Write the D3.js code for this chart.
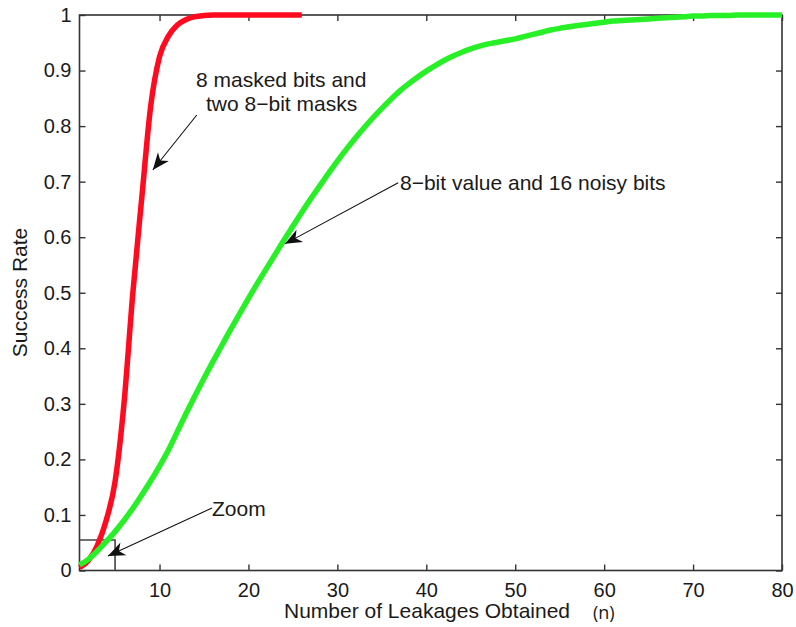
<!DOCTYPE html>
<html>
<head>
<meta charset="utf-8">
<script src="https://cdn.jsdelivr.net/npm/d3@7"></script>
<style>
  html, body { margin: 0; padding: 0; background: #fff; }
  svg { display: block; }
  text { font-family: "Liberation Sans", Arial, Helvetica, sans-serif; fill: #1a1a1a; }
</style>
</head>
<body>
<svg id="chart" width="796" height="627"></svg>
<script>
// Success rate versus number of leakages obtained (n)
const maskedN = [1,2,3,4,5,6,7,8,9,10,11,12,13,14,15,16,17,18,19,20,21,22,23,24,25,26];
const maskedRate = [0.005,0.018,0.045,0.09,0.16,0.30,0.50,0.67,0.835,0.925,0.962,0.982,0.992,0.997,0.999,1,1,1,1,1,1,1,1,1,1,1];

const noisyN = [1,2,3,4,5,6,7,8,9,10,11,12,13,14,15,16,17,18,19,20,
  21,22,23,24,25,26,27,28,29,30,31,32,33,34,35,36,37,38,39,40,
  41,42,43,44,45,46,47,48,49,50,51,52,53,54,55,56,57,58,59,60,
  61,62,63,64,65,66,67,68,69,70,71,72,73,74,75,76,77,78,79,80];
const noisyRate = [0.01,0.02,0.035,0.052,0.07,0.09,0.112,0.136,0.161,0.188,
  0.217,0.25,0.283,0.315,0.346,0.376,0.405,0.434,0.462,0.49,
  0.517,0.543,0.569,0.595,0.62,0.645,0.669,0.692,0.715,0.737,
  0.758,0.778,0.797,0.815,0.832,0.848,0.863,0.876,0.888,0.899,
  0.909,0.918,0.926,0.933,0.939,0.944,0.948,0.951,0.954,0.957,
  0.961,0.965,0.969,0.973,0.976,0.979,0.981,0.983,0.985,0.987,
  0.989,0.99,0.991,0.992,0.993,0.994,0.995,0.996,0.997,0.998,
  0.998,0.999,0.999,0.999,1,1,1,1,1,1];

const xTicks = [10,20,30,40,50,60,70,80];
const yTicks = [0,0.1,0.2,0.3,0.4,0.5,0.6,0.7,0.8,0.9,1];

// Zoomed region marked in the lower-left corner
const zoomN = [1, 5];
const zoomRate = [0, 0.055];

const svg = d3.select("#chart");
const x = d3.scaleLinear().domain([1, 80]).range([79.5, 782]);
const y = d3.scaleLinear().domain([0, 1]).range([570.5, 15]);
const axisColor = "#333";

// Frame lines
svg.append("rect")
  .attr("x", x(1)).attr("y", y(1))
  .attr("width", x(80) - x(1)).attr("height", y(0) - y(1))
  .attr("fill", "none").attr("stroke", axisColor).attr("stroke-width", 1.6);

function styleAxis(g) {
  g.select(".domain").remove();
  g.selectAll(".tick line").attr("stroke", axisColor).attr("stroke-width", 1.4);
  g.selectAll(".tick text").attr("font-size", 20).attr("fill", "#1a1a1a")
    .attr("font-family", "'Liberation Sans', Arial, sans-serif");
}

svg.append("g").attr("transform", `translate(0,${y(0)})`)
  .call(d3.axisBottom(x).tickValues(xTicks).tickSize(-6).tickPadding(12).tickFormat(d3.format("d")))
  .call(styleAxis);
svg.append("g").attr("transform", `translate(0,${y(1)})`)
  .call(d3.axisTop(x).tickValues(xTicks).tickSize(-6).tickFormat(""))
  .call(styleAxis);
svg.append("g").attr("transform", `translate(${x(1)},0)`)
  .call(d3.axisLeft(y).tickValues(yTicks).tickSize(-6).tickPadding(8).tickFormat(d => d3.format("~g")(d)))
  .call(styleAxis);
svg.append("g").attr("transform", `translate(${x(80)},0)`)
  .call(d3.axisRight(y).tickValues(yTicks).tickSize(-6).tickFormat(""))
  .call(styleAxis);

// Zoom box
svg.append("path")
  .attr("d", `M${x(zoomN[0])},${y(zoomRate[1])}H${x(zoomN[1])}V${y(zoomRate[0])}`)
  .attr("fill", "none").attr("stroke", "#444").attr("stroke-width", 1.6);

// Curves
const line = (xs, ys) => d3.line()
  .x((d, i) => x(xs[i])).y((d, i) => y(ys[i]))
  .curve(d3.curveMonotoneX)(ys);

svg.append("path").attr("d", line(maskedN, maskedRate))
  .attr("fill", "none").attr("stroke", "#ff0a1e").attr("stroke-width", 5.5)
  .attr("stroke-linejoin", "round");
svg.append("path").attr("d", line(noisyN, noisyRate))
  .attr("fill", "none").attr("stroke", "#27f027").attr("stroke-width", 5.5)
  .attr("stroke-linejoin", "round");

// Arrow marker
svg.append("defs").append("marker")
  .attr("id", "arrowhead")
  .attr("markerUnits", "userSpaceOnUse")
  .attr("viewBox", "-20 -10 22 20")
  .attr("markerWidth", 22).attr("markerHeight", 20)
  .attr("refX", 0).attr("refY", 0)
  .attr("orient", "auto")
  .append("path")
  .attr("d", "M0,0L-17,-7L-12,0L-17,7Z")
  .attr("fill", "#111");

// Annotations: arrow from tail to head, in data units
const notes = [
  { tail: [14.19, 0.82], head: [9.24, 0.721] },
  { tail: [36.84, 0.698], head: [24.1, 0.588] },
  { tail: [15.9, 0.1125], head: [4.2, 0.026] }
];
notes.forEach(a => {
  svg.append("line")
    .attr("x1", x(a.tail[0])).attr("y1", y(a.tail[1]))
    .attr("x2", x(a.head[0])).attr("y2", y(a.head[1]))
    .attr("stroke", "#111").attr("stroke-width", 1.1)
    .attr("marker-end", "url(#arrowhead)");
});

const fs = 21;
svg.append("text").attr("x", 196).attr("y", 87).attr("font-size", fs).text("8 masked bits and");
svg.append("text").attr("x", 206).attr("y", 111).attr("font-size", fs).text("two 8\u2212bit masks");
svg.append("text").attr("x", 400).attr("y", 190).attr("font-size", fs).text("8\u2212bit value and 16 noisy bits");
svg.append("text").attr("x", 212).attr("y", 516).attr("font-size", fs).text("Zoom");

// Axis titles
svg.append("text").attr("x", 284).attr("y", 618).attr("font-size", fs)
  .text("Number of Leakages Obtained");
svg.append("text").attr("x", 593).attr("y", 619).attr("font-size", 18)
  .style("font-family", "'Open Sans', sans-serif").text("(n)");
svg.append("text")
  .attr("transform", "translate(27,292.5) rotate(-90)")
  .attr("text-anchor", "middle").attr("font-size", fs)
  .text("Success Rate");
</script>
</body>
</html>
